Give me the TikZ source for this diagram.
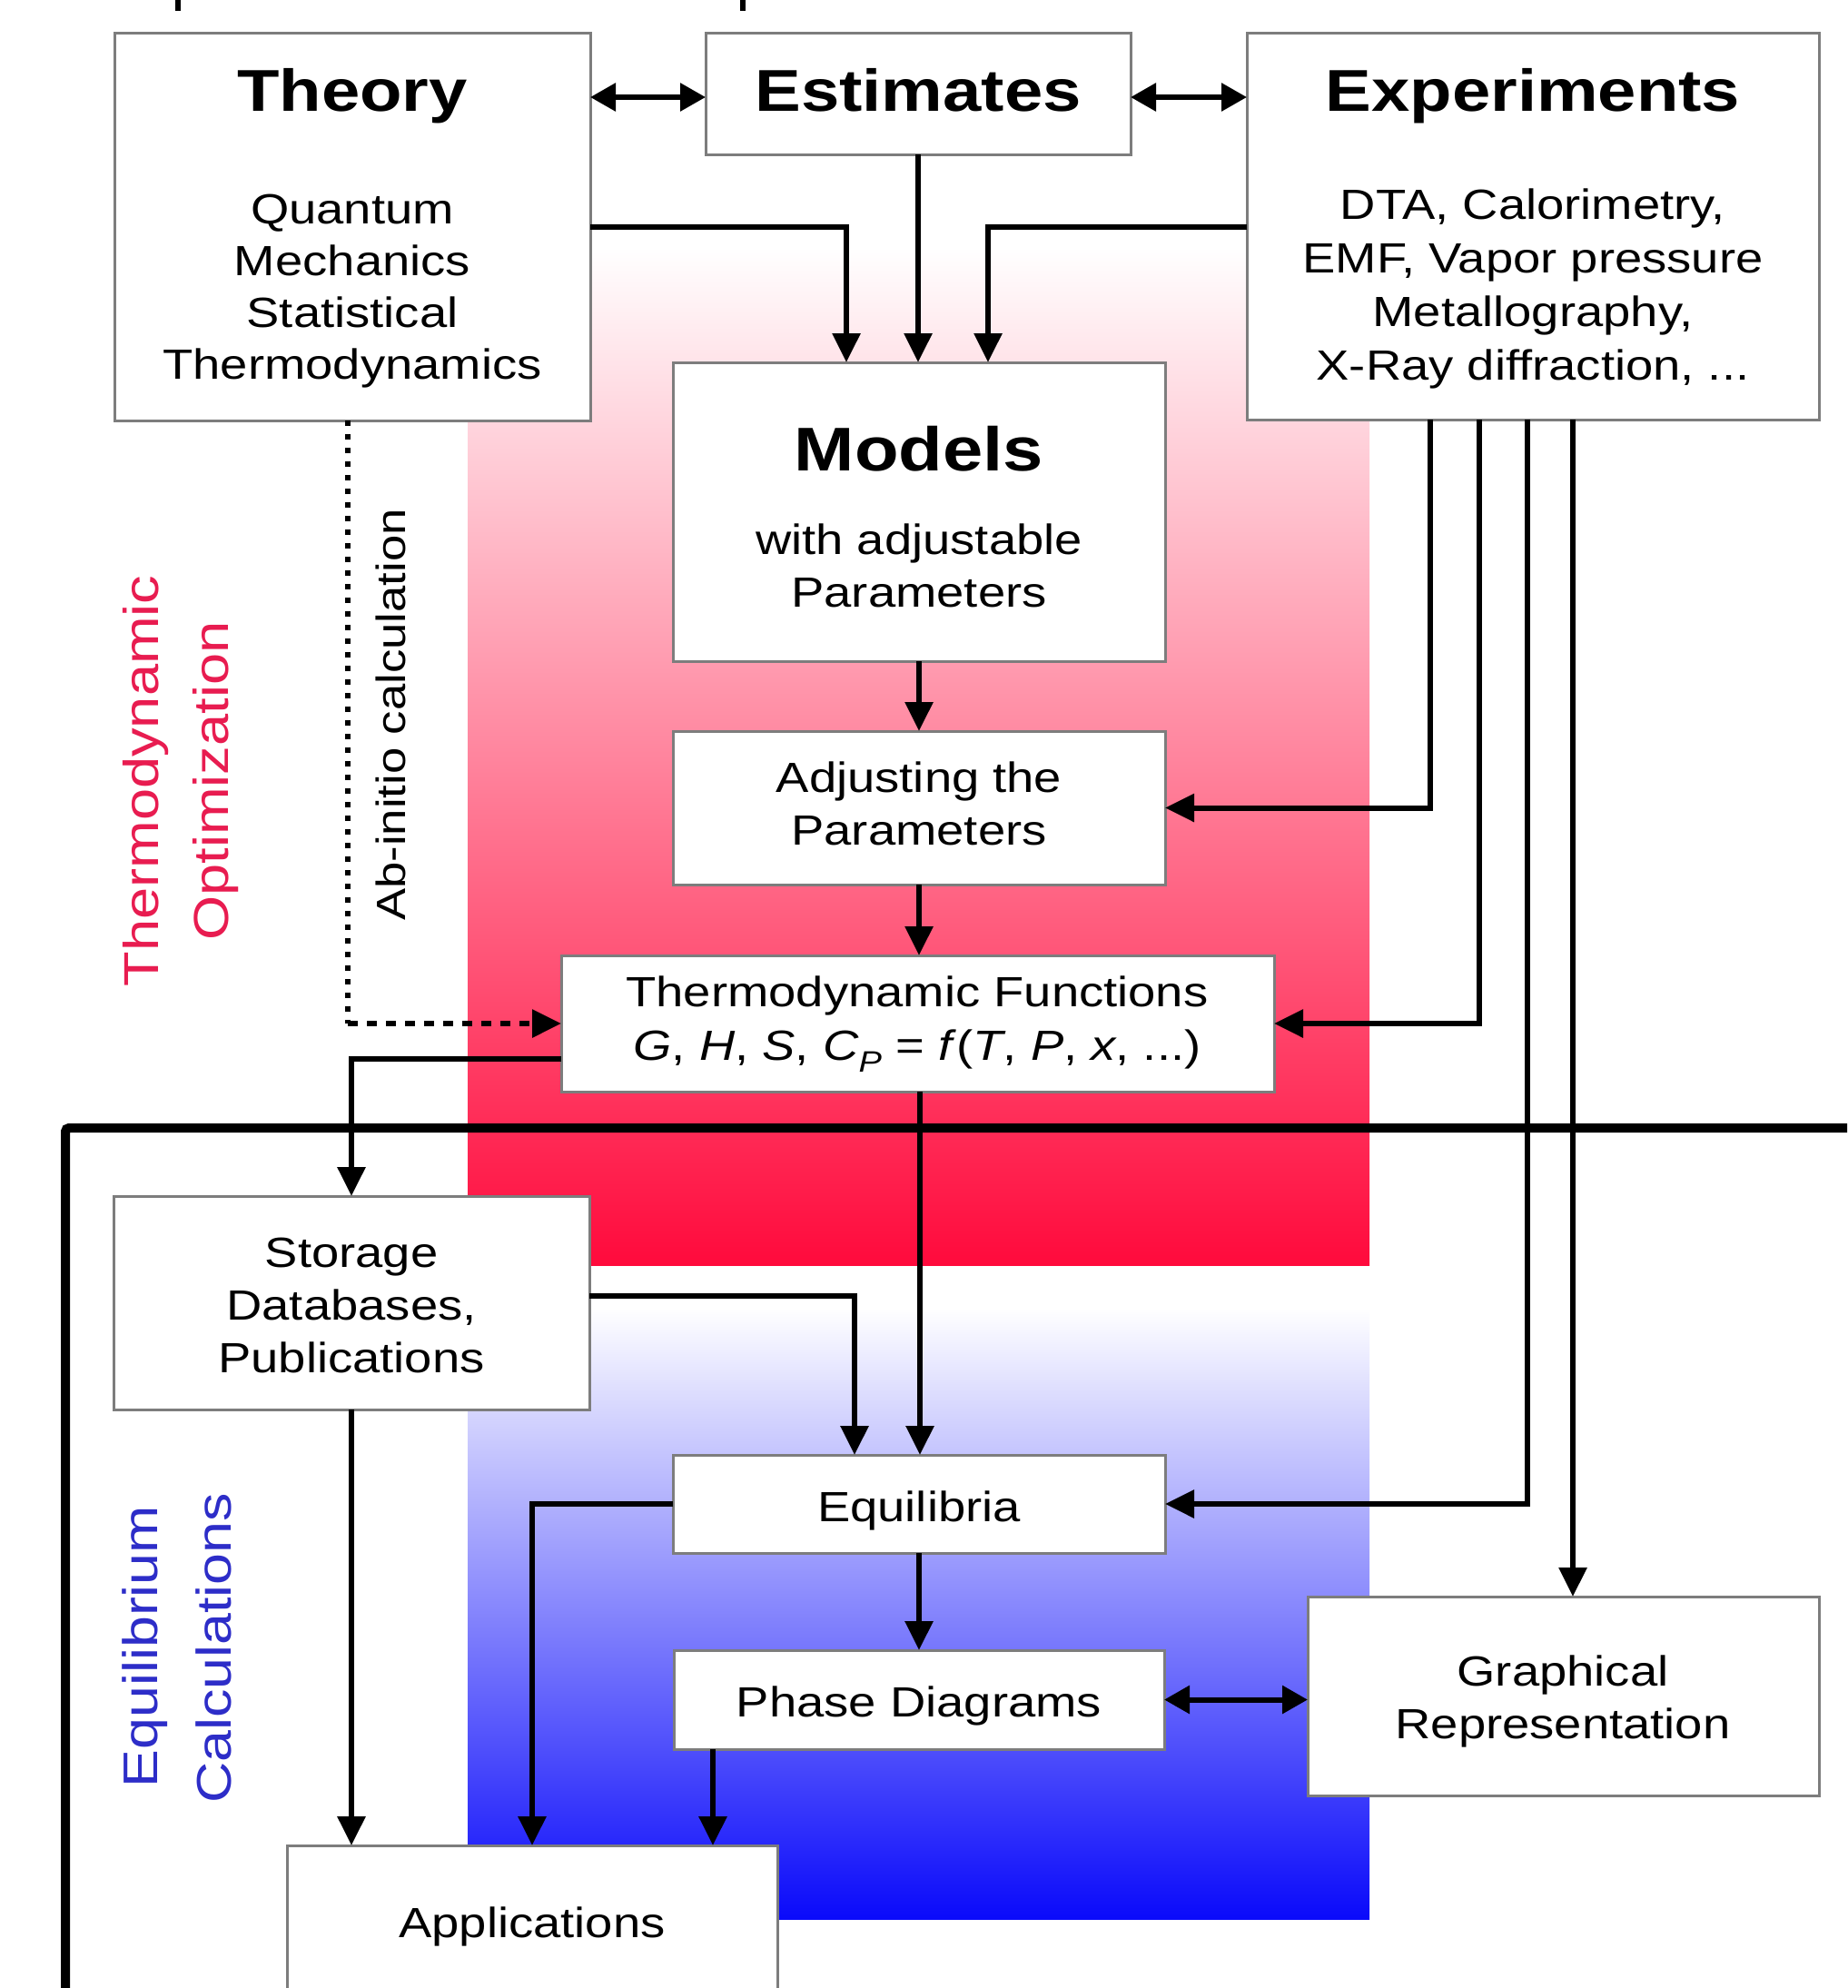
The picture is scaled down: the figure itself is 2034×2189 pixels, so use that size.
\documentclass[tikz,border=0pt]{standalone}
\usepackage{fontspec}
\setmainfont{Liberation Sans}[FakeStretch=1.17]
\usetikzlibrary{arrows.meta,fit}
\definecolor{redg}{RGB}{255,10,60}
\definecolor{blueg}{RGB}{10,10,250}
\definecolor{redlab}{RGB}{232,28,80}
\definecolor{bluelab}{RGB}{45,45,200}
\definecolor{boxline}{RGB}{125,125,125}
\begin{document}
\begin{tikzpicture}[x=1pt,y=-1pt,
  box/.style={draw=boxline, line width=3pt, fill=white, inner sep=0pt, outer sep=0pt},
  tx/.style={font=\fontsize{46.5}{56}\selectfont, inner sep=0pt, anchor=base},
  tt/.style={font=\fontsize{65}{78}\selectfont\bfseries, inner sep=0pt, anchor=base},
  tm/.style={font=\fontsize{68}{80}\selectfont\bfseries, inner sep=0pt, anchor=base},
  rot/.style={rotate=90, inner sep=0pt, anchor=center},
  tip/.style={-{Triangle[length=32pt,width=30pt]}},
  arr/.style={line width=6pt, tip},
  arrtwo/.style={line width=6pt, {Triangle[length=28pt,width=30pt]}-{Triangle[length=28pt,width=30pt]}},
  dotline/.style={line width=6pt, dash pattern=on 6pt off 9pt},
  dashline/.style={line width=6pt, dash pattern=on 11pt off 10pt}
]
\useasboundingbox (0,0) rectangle (2034,2189);
\clip (0,0) rectangle (2034,2189);
\fill[white] (0,0) rectangle (2034,2189);

% gradient panels
\shade[top color=white, bottom color=redg] (515,272) rectangle (1508,1393);
\shade[top color=white, bottom color=blueg] (515,1440) rectangle (1508,2113);

% cut-off marks at the top edge
\fill (193,0) rectangle (199,12);
\fill (815,0) rectangle (821,12);

% boxes
\node[box, fit={(126,37) (650,463)}] (theory) {};
\node[box, fit={(777,37) (1245,170)}] (est) {};
\node[box, fit={(1373,37) (2003,462)}] (exp) {};
\node[box, fit={(741,399) (1283,728)}] (models) {};
\node[box, fit={(741,805) (1283,974)}] (adjust) {};
\node[box, fit={(618,1052) (1403,1202)}] (thermo) {};
\node[box, fit={(125,1317) (649,1552)}] (storage) {};
\node[box, fit={(741,1602) (1283,1710)}] (equil) {};
\node[box, fit={(742,1817) (1282,1926)}] (phase) {};
\node[box, fit={(1440,1758) (2003,1977)}] (graph) {};
\node[box, fit={(316,2032) (856,2300)}] (apps) {};

% texts
\node[tt] (tTheory) at (388,123) {Theory};
\node[tx] (tQ) at (388,246) {Quantum};
\node[tx] (tM) at (388,303) {Mechanics};
\node[tx] (tS) at (388,360) {Statistical};
\node[tx] (tT) at (388,417) {Thermodynamics};

\node[tt] (tEst) at (1011,123) {Estimates};

\node[tt] (tExp) at (1688,123) {Experiments};
\node[tx] (tE1) at (1688,241) {DTA, Calorimetry,};
\node[tx] (tE2) at (1688,300) {EMF, Vapor pressure};
\node[tx] (tE3) at (1688,359) {Metallography,};
\node[tx] (tE4) at (1688,418) {X-Ray diffraction, ...};

\node[tm] (tModels) at (1012,518) {Models};
\node[tx] (tM1) at (1012,610) {with adjustable};
\node[tx] (tM2) at (1012,668) {Parameters};

\node[tx] (tA1) at (1012,872) {Adjusting the};
\node[tx] (tA2) at (1012,930) {Parameters};

\node[tx] (tF1) at (1010,1108) {Thermodynamic Functions};
\node[tx] (tF2) at (1010,1167) {\textit{G}, \textit{H}, \textit{S}, \textit{C}\textsubscript{\textit{P}} = \textit{f}(\textit{T}, \textit{P}, \textit{x}, ...)};

\node[tx] (tSt1) at (387,1395) {Storage};
\node[tx] (tSt2) at (387,1453) {Databases,};
\node[tx] (tSt3) at (387,1511) {Publications};

\node[tx] (tEq) at (1012,1675) {Equilibria};
\node[tx] (tPh) at (1012,1890) {Phase Diagrams};
\node[tx] (tG1) at (1721,1856) {Graphical};
\node[tx] (tG2) at (1721,1914) {Representation};
\node[tx] (tApp) at (586,2133) {Applications};

% rotated labels
\node[rot, text=redlab, font=\fontsize{54}{60}\selectfont] (lTh) at (161,860) {Thermodynamic};
\node[rot, text=redlab, font=\fontsize{54}{60}\selectfont] (lOp) at (238,860) {Optimization};
\node[rot, text=bluelab, font=\fontsize{53.6}{60}\selectfont] (lEq) at (160,1813) {Equilibrium};
\node[rot, text=bluelab, font=\fontsize{53.6}{60}\selectfont] (lCa) at (235,1815) {Calculations};
\node[rot, font=\fontsize{45}{54}\selectfont] (lAb) at (430,787) {Ab-initio calculation};

% connectors
\draw[arrtwo] (theory.east |- 0,107) -- (est.west |- 0,107);
\draw[arrtwo] (est.east |- 0,107) -- (exp.west |- 0,107);
\draw[arr] (theory.east |- 0,250) -| (models.north -| 932,0);
\draw[arr] (est.south -| 1011,0) -- (models.north -| 1011,0);
\draw[arr] (exp.west |- 0,250) -| (models.north -| 1088,0);
\draw[arr] (models.south -| 1012,0) -- (adjust.north -| 1012,0);
\draw[arr] (adjust.south -| 1012,0) -- (thermo.north -| 1012,0);
\draw[arr] (exp.south -| 1575,0) |- (adjust.east);
\draw[arr] (exp.south -| 1629,0) |- (thermo.east);
\draw[arr] (exp.south -| 1682,0) |- (equil.east);
\draw[arr] (exp.south -| 1732,0) -- (graph.north -| 1732,0);
\draw[dotline] (theory.south -| 383,0) -- (thermo.west -| 383,0);
\draw[dashline, tip] (thermo.west -| 383,0) -- (thermo.west);
\draw[arr] (thermo.west |- 0,1166) -| (storage.north -| 387,0);
\draw[arr] (thermo.south -| 1013,0) -- (equil.north -| 1013,0);
\draw[arr] (storage.east |- 0,1427) -| (equil.north -| 941,0);
\draw[arr] (storage.south -| 387,0) -- (apps.north -| 387,0);
\draw[arr] (equil.west) -| (apps.north -| 586,0);
\draw[arr] (equil.south -| 1012,0) -- (phase.north -| 1012,0);
\draw[arr] (phase.south -| 785,0) -- (apps.north -| 785,0);
\draw[arrtwo] (phase.east) -- (graph.west |- phase.east);

% thick frame
\draw[line width=10pt, rounded corners=4pt] (72,2300) -- (72,1242) -- (2100,1242);
\end{tikzpicture}
\end{document}
